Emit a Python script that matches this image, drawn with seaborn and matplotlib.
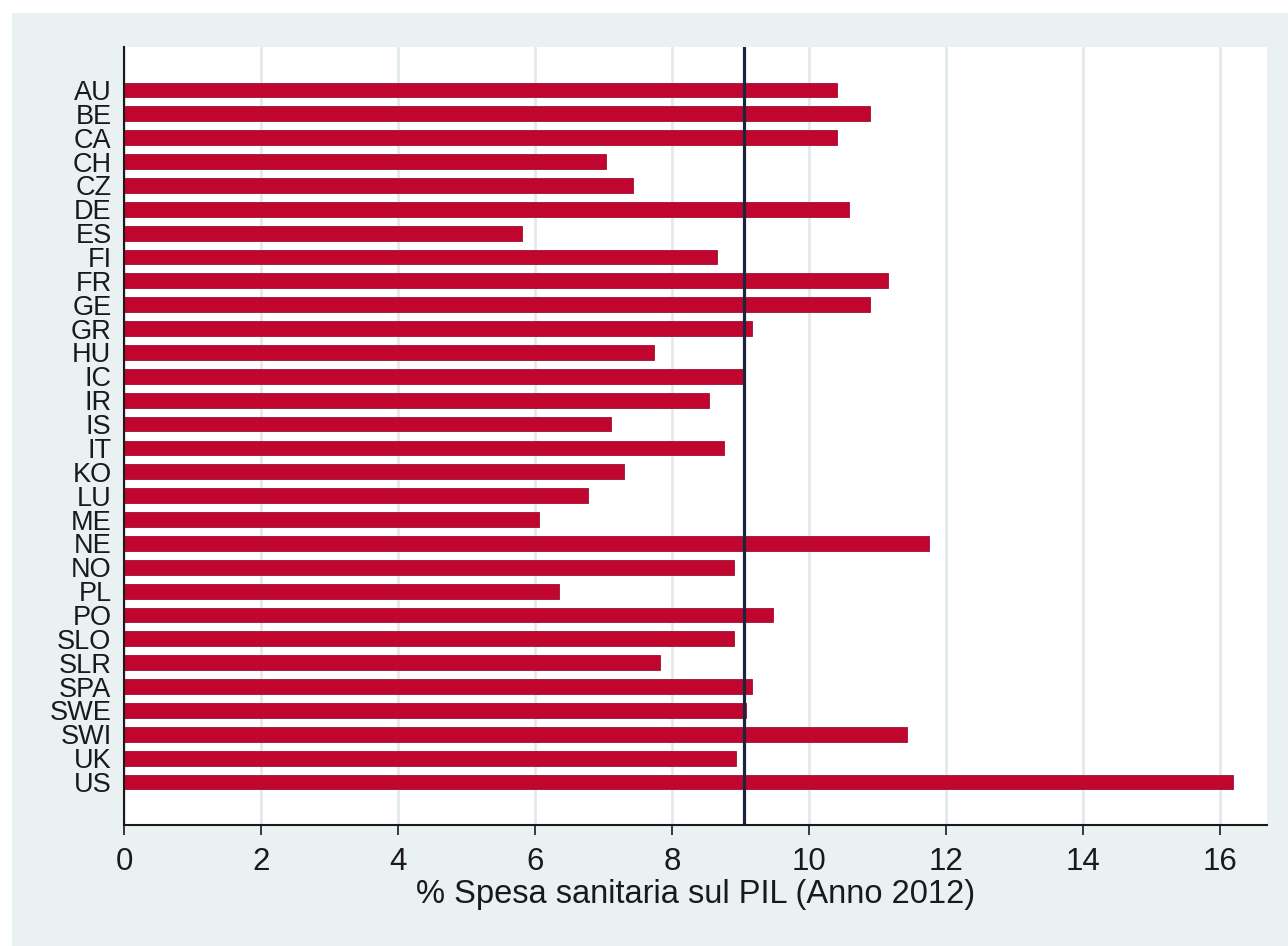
import matplotlib
matplotlib.use("Agg")
import matplotlib.pyplot as plt
from matplotlib.patches import Rectangle
import numpy as np
import pandas as pd
import seaborn as sns

# Health expenditure as % of GDP, 2012
countries = ["AU", "BE", "CA", "CH", "CZ", "DE", "ES", "FI", "FR", "GE",
             "GR", "HU", "IC", "IR", "IS", "IT", "KO", "LU", "ME", "NE",
             "NO", "PL", "PO", "SLO", "SLR", "SPA", "SWE", "SWI", "UK", "US"]
spesa = [10.40, 10.88, 10.40, 7.03, 7.43, 10.58, 5.81, 8.66, 11.15, 10.88,
         9.17, 7.73, 9.04, 8.54, 7.10, 8.75, 7.29, 6.77, 6.05, 11.75,
         8.90, 6.35, 9.47, 8.90, 7.82, 9.17, 9.07, 11.42, 8.93, 16.19]
x_ticks = [0, 2, 4, 6, 8, 10, 12, 14, 16]
x_title = "% Spesa sanitaria sul PIL (Anno 2012)"

df = pd.DataFrame({"paese": countries, "spesa": spesa})
media = float(np.mean(spesa))

sns.set_theme(style="white")
plt.rcParams["font.family"] = ["Liberation Sans", "DejaVu Sans"]

W, H = 1288, 946
fig = plt.figure(figsize=(W / 100, H / 100), dpi=100)
fig.patch.set_facecolor("white")
# graph region background
fig.add_artist(Rectangle((12 / W, 0), 1 - 12 / W, 1 - 13 / H,
                         transform=fig.transFigure, facecolor="#EAF1F3",
                         edgecolor="none", zorder=-10))

ax = fig.add_axes([124 / W, 1 - 825 / H, (1267 - 124) / W, (825 - 47) / H])
ax.set_facecolor("white")

sns.barplot(data=df, x="spesa", y="paese", orient="h", color="#C0062F",
            saturation=1, width=0.62, edgecolor="#9A1030", linewidth=0.6,
            ax=ax, zorder=3)

# mean reference line
ax.axvline(media, color="#1B2540", linewidth=2.3, zorder=4)

ax.set_xlim(0, 16.68)
ax.set_ylim(len(countries) - 1 + 1.8, -1.8)
ax.set_xticks(x_ticks)
ax.set_xticklabels([str(t) for t in x_ticks])
ax.grid(axis="x", color="#E2EAEC", linewidth=2.0, zorder=0)
ax.grid(axis="y", visible=False)
ax.set_axisbelow(True)

for s in ["top", "right"]:
    ax.spines[s].set_visible(False)
for s in ["left", "bottom"]:
    ax.spines[s].set_color("#1a1a1a")
    ax.spines[s].set_linewidth(1.5)
    ax.spines[s].set_zorder(5)

ax.tick_params(axis="x", length=7.5, width=1.2, color="#1a1a1a",
               labelsize=22.5, labelcolor="#1a1a1a", pad=8, bottom=True)
ax.tick_params(axis="y", length=0, labelsize=19.5, labelcolor="#1a1a1a", pad=9)

ax.set_xlabel(x_title, fontsize=23.5, color="#1a1a1a", labelpad=2)
ax.set_ylabel("")

fig.savefig("out.png", dpi=100, facecolor=fig.get_facecolor())
